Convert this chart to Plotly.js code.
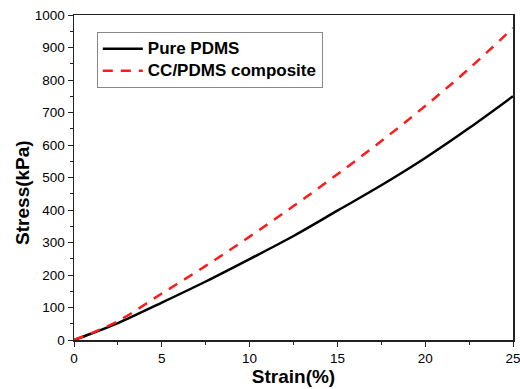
<!DOCTYPE html>
<html>
<head>
<meta charset="utf-8">
<script src="https://cdn.plot.ly/plotly-3.0.1.min.js"></script>
<style>html,body{margin:0;padding:0;background:#fff;}#chart{width:520px;height:389px;}</style>
</head>
<body>
<div id="chart"></div>
<script>
const strain = [0, 1, 2.5, 5, 7.5, 10, 12.5, 15, 17.5, 20, 22.5, 25];
const purePDMS = [0, 20, 52, 115, 180, 249, 320, 398, 476, 560, 652, 750];
const compositeStrain = [0, 1, 2.5, 5, 7.5, 10, 12.5, 15, 17.5, 20, 22.5, 25];
const composite = [0, 21, 58, 143, 228, 318, 412, 510, 612, 720, 835, 960];
const seriesNames = ["Pure PDMS", "CC/PDMS composite"];
const xTitle = "Strain(%)";
const yTitle = "Stress(kPa)";

const traces = [
  {x: strain, y: purePDMS, name: '<span style="font-size:17px">' + seriesNames[0] + '</span>', mode: "lines",
   line: {color: "#000000", width: 2.5, shape: "spline"}},
  {x: compositeStrain, y: composite, name: '<span style="font-size:17px">' + seriesNames[1] + '</span>', mode: "lines",
   line: {color: "#ff1a1a", width: 2.5, dash: "10px,8px", shape: "spline"}}
];

const FONT = "Liberation Sans, Arial, sans-serif";
const axisCommon = {
  showline: true, linecolor: "#222", linewidth: 1.5, mirror: true,
  ticks: "outside", ticklen: 5, tickwidth: 1, tickcolor: "#222",
  showgrid: false, zeroline: false,
  tickfont: {family: FONT, size: 13.5, color: "#000"}
};

const layout = {
  width: 520, height: 389,
  margin: {l: 74, r: 7, t: 15, b: 49},
  paper_bgcolor: "#fff", plot_bgcolor: "#fff",
  font: {family: FONT, color: "#000"},
  xaxis: Object.assign({}, axisCommon, {
    range: [0, 25], dtick: 5, tick0: 0, ticklabeloverflow: "allow",
    minor: {dtick: 2.5, ticks: "outside", ticklen: 3, tickcolor: "#222"},
    title: {text: "<b>" + xTitle + "</b>", font: {size: 19}, standoff: 3}
  }),
  yaxis: Object.assign({}, axisCommon, {
    range: [0, 1000], dtick: 100, tick0: 0,
    minor: {dtick: 50, ticks: "outside", ticklen: 3, tickcolor: "#222"}
  }),
  annotations: [{
    text: "<b>" + yTitle + "</b>", textangle: -90, showarrow: false,
    xref: "paper", yref: "paper", x: -0.119, y: 0.455,
    xanchor: "center", yanchor: "middle", font: {size: 19, family: FONT, color: "#000"}
  }],
  showlegend: true,
  legend: {
    x: 0.052, y: 0.948, xanchor: "left", yanchor: "top",
    bgcolor: "#fff", bordercolor: "#888", borderwidth: 1,
    font: {size: 14.5, family: FONT, weight: "bold"},
    itemwidth: 40, tracegroupgap: 0
  }
};

Plotly.newPlot("chart", traces, layout, {displayModeBar: false, staticPlot: true});
</script>
</body>
</html>
